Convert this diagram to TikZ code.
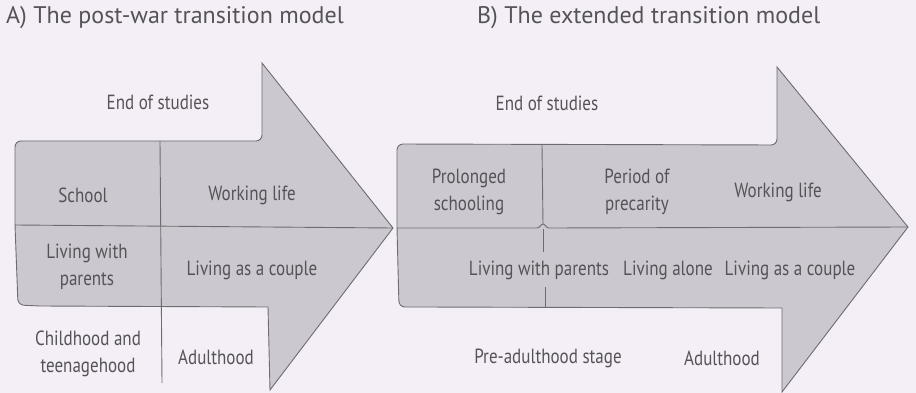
\documentclass[tikz,border=0pt]{standalone}
\usepackage{fontspec}
\setmainfont{PT Sans}
\newfontfamily\condfont[FakeStretch=0.83]{PT Sans}
\definecolor{bgcol}{HTML}{F4EEF6}
\definecolor{fillcol}{HTML}{CBC8D0}
\definecolor{linecol}{HTML}{6E6C70}
\definecolor{txtcol}{HTML}{555358}
\tikzset{
  arrowshape/.style={fill=fillcol, draw=linecol, line width=0.9pt, line join=miter},
  divider/.style={draw=linecol, line width=0.9pt},
  lbl/.style={text=txtcol, font=\condfont\fontsize{20.5}{26.5}\selectfont, align=center, inner sep=0pt},
  ttl/.style={text=txtcol, font=\fontsize{24}{27}\selectfont, anchor=west, inner sep=0pt},
}
\begin{document}
\begin{tikzpicture}[x=1pt,y=-1pt]
\fill[bgcol] (0,0) rectangle (916,393);
\useasboundingbox (0,0) rectangle (916,393);

% titles
\node[ttl] (tA) at (6,18) {A) The post-war transition model};
\node[ttl] (tB) at (477,18) {B) The extended transition model};

% arrow A
\path[arrowshape] (15,225) [rounded corners=6pt] -- (15,141) -- (262,141) [sharp corners]
  -- (262,63) -- (393,228) -- (270,390) -- (268,307) -- (40,306) [rounded corners=6pt] -- (18,305) -- cycle;
\draw[divider] (15,225) -- (393,228);
\draw[divider] (160,141) -- (162,383);

% arrow B
\path[arrowshape] (397,228) [rounded corners=6pt] -- (397,144) -- (777,145) [sharp corners]
  -- (777,67) -- (908,227) -- (782,392) -- (782,308) -- (420,307) [rounded corners=6pt] -- (399,307) -- cycle;
\draw[divider] (397,228) -- (537,228) .. controls (540,228) and (541,224) .. (543,224)
  .. controls (545,224) and (546,228) .. (549,228) -- (908,227);
\draw[divider] (542,145) -- (543,224);
\draw[divider] (543,229) -- (543,252);
\draw[divider] (545,287) -- (545,308);

% labels A
\node[lbl] (eA) at (158,102) {End of studies};
\node[lbl] (school) at (83,195) {School};
\node[lbl] (workA) at (252,195) {Working life};
\node[lbl] (parentsA) at (87,267) {Living with\\parents};
\node[lbl] (coupleA) at (252,270) {Living as a couple};
\node[lbl] (child) at (88,354) {Childhood and\\teenagehood};
\node[lbl] (adultA) at (216,357) {Adulthood};

% labels B
\node[lbl] (eB) at (547,103) {End of studies};
\node[lbl] (prolonged) at (469,192) {Prolonged\\schooling};
\node[lbl] (precarity) at (637,192) {Period of\\precarity};
\node[lbl] (workB) at (778,192) {Working life};
\node[lbl] (parentsB) at (539,270) {Living with parents};
\node[lbl] (alone) at (668,270) {Living alone};
\node[lbl] (coupleB) at (790,270) {Living as a couple};
\node[lbl] (pre) at (548,358) {Pre-adulthood stage};
\node[lbl] (adultB) at (722,358) {Adulthood};
\end{tikzpicture}
\end{document}
